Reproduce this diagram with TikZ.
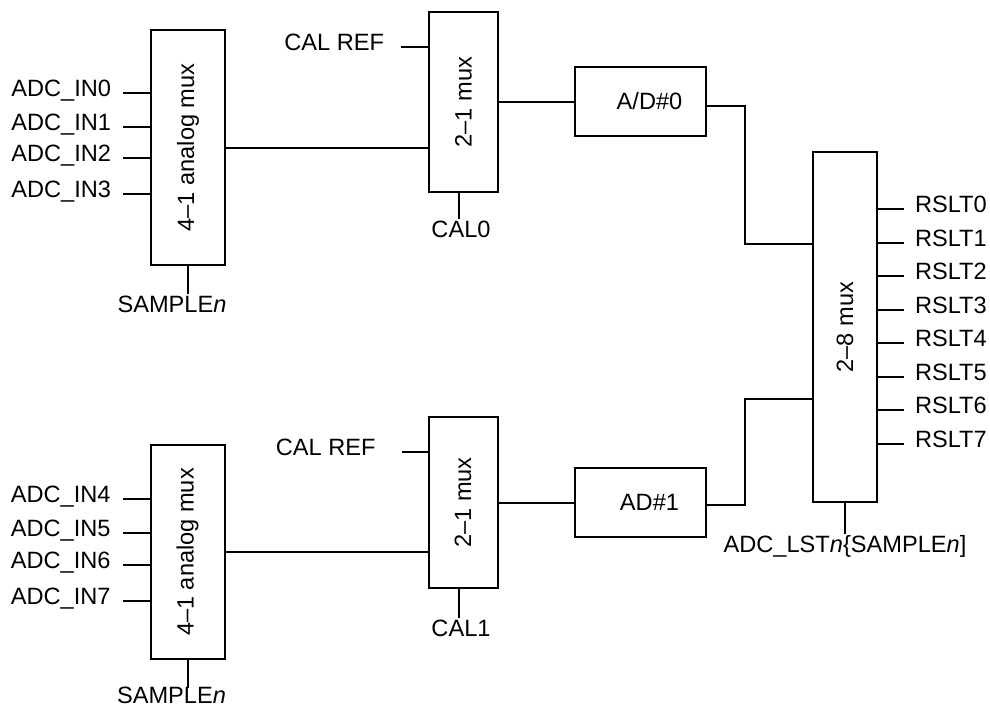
\documentclass[tikz,border=0pt]{standalone}
\usepackage{fontspec}
\setmainfont{Liberation Sans}
\usetikzlibrary{positioning}

\begin{document}
\begin{tikzpicture}[
  x=0.5pt, y=-0.5pt,
  font=\fontsize{11.8}{14}\selectfont,
  line width=1pt,
  blockbox/.style={draw, inner sep=0pt},
  muxbox/.style={blockbox, minimum width=37pt},
  adcbox/.style={blockbox, minimum width=65.5pt, minimum height=34.5pt},
  rotlabel/.style={rotate=90, inner sep=0pt},
  adclabel/.style={xshift=4.5pt, inner sep=0pt},
  insig/.style={anchor=base east, yshift=-1.8pt, inner xsep=5.5pt, inner ysep=0pt},
  outsig/.style={anchor=base west, yshift=-1.8pt, inner xsep=5pt, inner ysep=0pt},
  ctlsig/.style={anchor=base, yshift=-9pt, inner sep=0pt},
]
\useasboundingbox (0,0) rectangle (990,707);

\node[muxbox, minimum height=117.5pt, label={[rotlabel]center:4--1 analog mux}] (muxA) at (188,147.5) {};
\node[muxbox, minimum height=107pt,   label={[rotlabel]center:4--1 analog mux}] (muxB) at (187.5,552) {};
\node[muxbox, minimum width=34.5pt, minimum height=90pt,   label={[rotlabel]center:2--1 mux}] (selA) at (463.5,102) {};
\node[muxbox, minimum width=34.5pt, minimum height=85.5pt, label={[rotlabel]center:2--1 mux}] (selB) at (463,502.5) {};
\node[adcbox, label={[adclabel]center:A/D\#0}] (adcA) at (640.5,101.5) {};
\node[adcbox, label={[adclabel]center:AD\#1}]  (adcB) at (640.5,502.5) {};
\node[muxbox, minimum width=32pt, minimum height=175pt, label={[rotlabel]center:2--8 mux}] (rmux) at (845,327) {};

\foreach \i/\y in {0/93, 1/127, 2/158, 3/194}{
  \draw (muxA.west |- 0,\y) -- ++(-27,0) node[insig] (in\i) {ADC\_IN\i};
}
\foreach \i/\y in {4/499, 5/533, 6/565, 7/601}{
  \draw (muxB.west |- 0,\y) -- ++(-27,0) node[insig] (in\i) {ADC\_IN\i};
}

\draw (selA.west |- 0,47)  -- ++(-27,0) node[insig, inner xsep=8pt]    (refA) {CAL REF};
\draw (selB.west |- 0,452) -- ++(-26,0) node[insig, inner xsep=12.5pt] (refB) {CAL REF};

\draw (muxA.east) -- (muxA.east -| selA.west);
\draw (muxB.east) -- (muxB.east -| selB.west);
\draw (selA.east |- adcA.west) -- (adcA.west);
\draw (selB.east |- adcB.west) -- (adcB.west);

\draw ([yshift=-2pt]adcA.east) -- ++(38,0) |- (rmux.west |- 0,244);
\draw ([yshift=-1pt]adcB.east) -- ++(38,0) |- (rmux.west |- 0,399);

\foreach \i [evaluate=\i as \y using 209+33.5*\i] in {0,...,7}{
  \draw (rmux.east |- 0,\y) -- ++(26,0) node[outsig] (rslt\i) {RSLT\i};
}

\draw (muxA.south) -- ++(0,28) node[ctlsig, xshift=-8pt] (smpA) {SAMPLE\textit{n}};
\draw (muxB.south) -- ++(0,28) node[ctlsig, xshift=-8pt, yshift=1.5pt] (smpB) {SAMPLE\textit{n}};
\draw ([xshift=-2.25pt]selA.south) -- ++(0,26) node[ctlsig, xshift=1pt] (cal0) {CAL0};
\draw ([xshift=-2pt]selB.south)    -- ++(0,29) node[ctlsig, xshift=1pt] (cal1) {CAL1};
\draw (rmux.south) -- ++(0,31) node[ctlsig] (lst) {ADC\_LST\textit{n}\{SAMPLE\textit{n}]};

\end{tikzpicture}
\end{document}
